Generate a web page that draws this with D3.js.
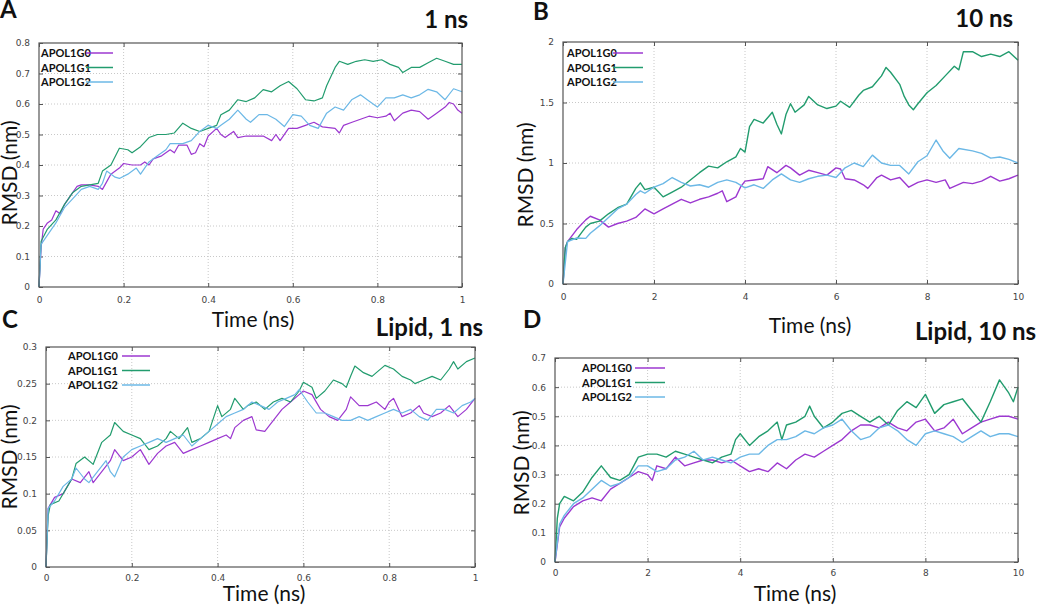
<!DOCTYPE html>
<html lang="en">
<head>
<meta charset="utf-8">
<title>APOL1 RMSD</title>
<script src="https://d3js.org/d3.v7.min.js"></script>
<style>
  body { margin: 0; background: #fff; }
  .tick-lbl { font-family: "DejaVu Sans", sans-serif; font-size: 9px; fill: #444; }
  .leg { font-family: Lato, sans-serif; font-weight: bold; font-size: 11px; fill: #111; }
  .axis-title { font-family: Lato, sans-serif; font-size: 21px; fill: #111; }
  .panel-title { font-family: Lato, sans-serif; font-weight: bold; font-size: 24px; fill: #111; }
</style>
</head>
<body>
<svg id="chart" width="1050" height="606"></svg>
<script>
// series names and colours
const seriesNames = ["APOL1G0", "APOL1G1", "APOL1G2"];
const seriesColors = ["#9c38d0", "#229c6e", "#6cb8e6"];

// ---- A : protein, 1 ns  [time (ns), RMSD (nm)]
const a_G0 = [[0,0],[0.005,0.13],[0.01,0.19],[0.02,0.21],[0.03,0.22],[0.04,0.25],[0.05,0.24],[0.06,0.27],[0.08,0.31],[0.09,0.33],[0.1,0.335],[0.12,0.335],[0.14,0.33],[0.15,0.32],[0.17,0.37],[0.19,0.39],[0.2,0.405],[0.22,0.4],[0.24,0.4],[0.25,0.41],[0.26,0.4],[0.27,0.42],[0.29,0.43],[0.31,0.45],[0.32,0.44],[0.33,0.465],[0.35,0.465],[0.36,0.435],[0.37,0.44],[0.38,0.47],[0.39,0.46],[0.4,0.495],[0.42,0.52],[0.43,0.5],[0.44,0.49],[0.46,0.51],[0.47,0.49],[0.49,0.495],[0.51,0.495],[0.53,0.495],[0.55,0.48],[0.56,0.5],[0.57,0.48],[0.59,0.52],[0.61,0.52],[0.63,0.53],[0.65,0.54],[0.67,0.525],[0.7,0.52],[0.71,0.505],[0.72,0.53],[0.74,0.54],[0.76,0.55],[0.78,0.56],[0.8,0.555],[0.82,0.56],[0.83,0.57],[0.84,0.545],[0.86,0.57],[0.88,0.58],[0.9,0.575],[0.92,0.55],[0.94,0.57],[0.96,0.59],[0.97,0.605],[0.98,0.6],[0.99,0.58],[1,0.57]];
const a_G1 = [[0,0],[0.005,0.15],[0.02,0.19],[0.04,0.22],[0.06,0.27],[0.08,0.31],[0.1,0.33],[0.12,0.335],[0.14,0.34],[0.15,0.38],[0.17,0.4],[0.19,0.455],[0.21,0.45],[0.22,0.44],[0.24,0.46],[0.26,0.49],[0.28,0.5],[0.3,0.5],[0.32,0.505],[0.34,0.537],[0.36,0.52],[0.38,0.51],[0.4,0.52],[0.42,0.53],[0.43,0.565],[0.45,0.58],[0.47,0.614],[0.49,0.608],[0.51,0.62],[0.53,0.647],[0.55,0.64],[0.57,0.66],[0.59,0.674],[0.61,0.65],[0.63,0.614],[0.65,0.61],[0.67,0.62],[0.68,0.66],[0.7,0.72],[0.71,0.74],[0.73,0.73],[0.75,0.74],[0.77,0.745],[0.79,0.74],[0.81,0.745],[0.83,0.73],[0.85,0.72],[0.86,0.703],[0.88,0.72],[0.9,0.72],[0.92,0.735],[0.94,0.75],[0.96,0.74],[0.98,0.73],[1,0.73]];
const a_G2 = [[0,0],[0.005,0.14],[0.02,0.17],[0.04,0.21],[0.06,0.26],[0.08,0.29],[0.1,0.32],[0.12,0.33],[0.14,0.32],[0.15,0.34],[0.16,0.38],[0.18,0.36],[0.19,0.356],[0.21,0.37],[0.23,0.39],[0.24,0.37],[0.26,0.41],[0.28,0.43],[0.3,0.45],[0.31,0.47],[0.34,0.47],[0.36,0.48],[0.38,0.51],[0.4,0.53],[0.42,0.52],[0.43,0.53],[0.45,0.55],[0.47,0.58],[0.49,0.55],[0.5,0.54],[0.52,0.565],[0.54,0.565],[0.56,0.55],[0.58,0.526],[0.6,0.565],[0.62,0.56],[0.64,0.53],[0.66,0.52],[0.68,0.57],[0.7,0.59],[0.72,0.58],[0.74,0.615],[0.76,0.63],[0.78,0.61],[0.8,0.59],[0.82,0.62],[0.84,0.62],[0.86,0.63],[0.88,0.62],[0.9,0.63],[0.92,0.648],[0.94,0.64],[0.96,0.614],[0.98,0.65],[1,0.64]];

// ---- B : protein, 10 ns
const b_G0 = [[0,0],[0.05,0.3],[0.1,0.35],[0.3,0.45],[0.5,0.53],[0.6,0.56],[0.8,0.53],[1,0.47],[1.2,0.5],[1.4,0.52],[1.6,0.55],[1.8,0.62],[2,0.58],[2.2,0.62],[2.4,0.66],[2.6,0.7],[2.8,0.67],[3,0.7],[3.2,0.72],[3.4,0.75],[3.5,0.77],[3.6,0.68],[3.8,0.72],[3.9,0.8],[4,0.85],[4.2,0.86],[4.4,0.87],[4.5,0.97],[4.7,0.92],[4.9,0.98],[5,0.96],[5.2,0.9],[5.4,0.94],[5.6,0.92],[5.8,0.9],[6,0.96],[6.1,0.95],[6.2,0.87],[6.4,0.86],[6.6,0.82],[6.7,0.79],[6.9,0.88],[7,0.9],[7.2,0.86],[7.4,0.88],[7.6,0.8],[7.8,0.84],[8,0.86],[8.2,0.84],[8.4,0.86],[8.5,0.79],[8.8,0.84],[9,0.83],[9.2,0.85],[9.4,0.89],[9.6,0.85],[9.8,0.87],[10,0.9]];
const b_G1 = [[0,0],[0.05,0.3],[0.1,0.35],[0.2,0.377],[0.3,0.37],[0.4,0.42],[0.5,0.47],[0.6,0.5],[0.8,0.52],[1,0.58],[1.2,0.63],[1.4,0.66],[1.6,0.79],[1.7,0.836],[1.8,0.78],[2,0.8],[2.1,0.76],[2.2,0.72],[2.4,0.76],[2.6,0.8],[2.8,0.86],[3,0.92],[3.2,0.974],[3.4,0.96],[3.6,1.01],[3.8,1.05],[3.9,1.12],[4,1.09],[4.1,1.3],[4.2,1.36],[4.4,1.33],[4.6,1.42],[4.7,1.32],[4.8,1.24],[4.9,1.4],[5,1.49],[5.1,1.42],[5.3,1.48],[5.4,1.55],[5.6,1.48],[5.8,1.45],[6,1.47],[6.1,1.51],[6.3,1.46],[6.5,1.56],[6.6,1.6],[6.8,1.63],[7,1.72],[7.1,1.79],[7.2,1.75],[7.4,1.65],[7.5,1.55],[7.6,1.48],[7.7,1.44],[7.8,1.49],[8,1.58],[8.2,1.64],[8.4,1.72],[8.6,1.8],[8.7,1.77],[8.8,1.92],[9,1.92],[9.2,1.88],[9.4,1.9],[9.6,1.88],[9.8,1.92],[10,1.85]];
const b_G2 = [[0,0],[0.1,0.35],[0.3,0.38],[0.5,0.377],[0.6,0.42],[0.8,0.48],[1,0.55],[1.2,0.62],[1.4,0.66],[1.6,0.74],[1.7,0.77],[1.8,0.75],[2,0.8],[2.2,0.83],[2.4,0.88],[2.6,0.84],[2.8,0.81],[3,0.82],[3.2,0.8],[3.4,0.84],[3.6,0.86],[3.8,0.84],[4,0.795],[4.2,0.82],[4.4,0.79],[4.6,0.86],[4.8,0.91],[5,0.86],[5.2,0.84],[5.4,0.87],[5.6,0.89],[5.8,0.9],[6,0.88],[6.2,0.96],[6.4,1],[6.6,0.97],[6.8,1.065],[7,1],[7.2,0.98],[7.4,0.98],[7.6,0.91],[7.8,1.01],[8,1.06],[8.2,1.19],[8.35,1.1],[8.5,1.04],[8.7,1.12],[9,1.1],[9.2,1.08],[9.4,1.04],[9.6,1.05],[9.8,1.03],[10,1]];

// ---- C : lipid, 1 ns
const c_G0 = [[0,0],[0.005,0.08],[0.02,0.095],[0.04,0.1],[0.06,0.12],[0.08,0.115],[0.1,0.13],[0.11,0.115],[0.13,0.13],[0.15,0.145],[0.16,0.16],[0.18,0.145],[0.2,0.15],[0.22,0.16],[0.24,0.14],[0.26,0.155],[0.28,0.165],[0.3,0.17],[0.32,0.155],[0.34,0.16],[0.36,0.165],[0.38,0.17],[0.4,0.175],[0.42,0.18],[0.43,0.175],[0.44,0.19],[0.46,0.2],[0.48,0.205],[0.49,0.187],[0.51,0.185],[0.53,0.2],[0.55,0.215],[0.57,0.225],[0.59,0.235],[0.6,0.24],[0.62,0.235],[0.64,0.215],[0.66,0.205],[0.68,0.2],[0.7,0.215],[0.71,0.232],[0.73,0.22],[0.75,0.22],[0.77,0.225],[0.79,0.215],[0.8,0.225],[0.81,0.23],[0.83,0.205],[0.85,0.21],[0.87,0.22],[0.88,0.21],[0.9,0.205],[0.92,0.21],[0.94,0.22],[0.96,0.205],[0.98,0.215],[1,0.23]];
const c_G1 = [[0,0],[0.005,0.07],[0.01,0.085],[0.03,0.09],[0.05,0.11],[0.06,0.12],[0.07,0.141],[0.09,0.15],[0.11,0.14],[0.13,0.17],[0.15,0.18],[0.16,0.197],[0.18,0.185],[0.2,0.18],[0.22,0.175],[0.24,0.16],[0.26,0.165],[0.28,0.175],[0.29,0.185],[0.31,0.175],[0.33,0.19],[0.34,0.17],[0.36,0.175],[0.38,0.185],[0.4,0.22],[0.41,0.205],[0.43,0.215],[0.44,0.23],[0.46,0.215],[0.47,0.22],[0.49,0.225],[0.51,0.215],[0.53,0.225],[0.55,0.23],[0.57,0.225],[0.59,0.24],[0.6,0.252],[0.62,0.245],[0.63,0.23],[0.65,0.24],[0.67,0.255],[0.69,0.25],[0.7,0.245],[0.71,0.26],[0.72,0.274],[0.74,0.265],[0.76,0.26],[0.77,0.265],[0.79,0.275],[0.81,0.27],[0.83,0.26],[0.85,0.255],[0.86,0.25],[0.88,0.255],[0.9,0.26],[0.92,0.255],[0.94,0.27],[0.95,0.28],[0.96,0.27],[0.98,0.28],[1,0.285]];
const c_G2 = [[0,0],[0.005,0.08],[0.02,0.09],[0.04,0.11],[0.06,0.12],[0.07,0.135],[0.09,0.12],[0.1,0.115],[0.12,0.13],[0.14,0.145],[0.15,0.13],[0.16,0.123],[0.18,0.15],[0.2,0.16],[0.22,0.165],[0.24,0.17],[0.26,0.175],[0.28,0.17],[0.3,0.175],[0.32,0.18],[0.34,0.165],[0.36,0.175],[0.38,0.185],[0.4,0.195],[0.42,0.205],[0.44,0.21],[0.46,0.215],[0.48,0.225],[0.5,0.22],[0.52,0.215],[0.54,0.225],[0.56,0.23],[0.58,0.235],[0.59,0.242],[0.61,0.225],[0.63,0.21],[0.65,0.21],[0.67,0.205],[0.69,0.2],[0.71,0.2],[0.73,0.205],[0.75,0.2],[0.77,0.205],[0.79,0.21],[0.81,0.215],[0.83,0.21],[0.85,0.215],[0.87,0.205],[0.89,0.2],[0.91,0.215],[0.93,0.215],[0.95,0.21],[0.97,0.22],[0.99,0.225],[1,0.23]];

// ---- D : lipid, 10 ns
const d_G0 = [[0,0],[0.1,0.12],[0.2,0.15],[0.4,0.19],[0.6,0.21],[0.8,0.22],[1,0.21],[1.2,0.25],[1.4,0.27],[1.6,0.29],[1.8,0.31],[2,0.3],[2.1,0.28],[2.2,0.33],[2.4,0.32],[2.6,0.36],[2.8,0.33],[3,0.34],[3.2,0.35],[3.4,0.35],[3.6,0.34],[3.8,0.35],[4,0.33],[4.2,0.31],[4.4,0.32],[4.6,0.31],[4.8,0.34],[5,0.32],[5.2,0.35],[5.4,0.37],[5.6,0.36],[5.8,0.38],[6,0.4],[6.2,0.42],[6.4,0.45],[6.6,0.47],[6.8,0.47],[7,0.46],[7.2,0.48],[7.4,0.46],[7.6,0.45],[7.8,0.48],[8,0.49],[8.2,0.45],[8.4,0.46],[8.6,0.49],[8.8,0.44],[9,0.46],[9.2,0.48],[9.4,0.49],[9.6,0.5],[9.8,0.5],[10,0.49]];
const d_G1 = [[0,0],[0.05,0.15],[0.1,0.2],[0.2,0.225],[0.4,0.21],[0.6,0.24],[0.8,0.29],[1,0.33],[1.2,0.29],[1.4,0.28],[1.6,0.3],[1.8,0.36],[2,0.37],[2.2,0.37],[2.4,0.36],[2.6,0.38],[2.8,0.37],[3,0.36],[3.2,0.35],[3.4,0.34],[3.6,0.36],[3.8,0.37],[3.9,0.42],[4,0.44],[4.2,0.4],[4.4,0.43],[4.6,0.45],[4.8,0.48],[4.9,0.42],[5,0.47],[5.2,0.48],[5.4,0.5],[5.5,0.535],[5.6,0.5],[5.8,0.46],[6,0.48],[6.2,0.51],[6.4,0.52],[6.6,0.5],[6.8,0.48],[7,0.5],[7.2,0.47],[7.4,0.52],[7.6,0.55],[7.8,0.53],[8,0.575],[8.2,0.51],[8.4,0.54],[8.6,0.55],[8.8,0.56],[9,0.52],[9.2,0.48],[9.4,0.55],[9.6,0.625],[9.8,0.58],[9.9,0.55],[10,0.6]];
const d_G2 = [[0,0],[0.1,0.13],[0.2,0.16],[0.4,0.2],[0.6,0.22],[0.8,0.25],[1,0.28],[1.2,0.26],[1.4,0.27],[1.6,0.29],[1.8,0.33],[2,0.33],[2.2,0.31],[2.4,0.32],[2.6,0.35],[2.8,0.36],[3,0.38],[3.2,0.35],[3.4,0.36],[3.6,0.35],[3.8,0.34],[4,0.36],[4.2,0.37],[4.4,0.37],[4.6,0.4],[4.8,0.42],[5,0.42],[5.2,0.43],[5.4,0.45],[5.6,0.44],[5.8,0.46],[6,0.47],[6.2,0.49],[6.4,0.45],[6.6,0.42],[6.8,0.43],[7,0.46],[7.2,0.47],[7.4,0.45],[7.6,0.42],[7.8,0.4],[8,0.44],[8.2,0.45],[8.4,0.44],[8.6,0.43],[8.8,0.41],[9,0.43],[9.2,0.45],[9.4,0.43],[9.6,0.44],[9.8,0.44],[10,0.43]];

// tick values
const ticks1ns = [0, 0.2, 0.4, 0.6, 0.8, 1];
const ticks10ns = [0, 2, 4, 6, 8, 10];
const yTicksA = [0, 0.1, 0.2, 0.3, 0.4, 0.5, 0.6, 0.7, 0.8];
const yTicksB = [0, 0.5, 1, 1.5, 2];
const yTicksC = [0, 0.05, 0.1, 0.15, 0.2, 0.25, 0.3];
const yTicksD = [0, 0.1, 0.2, 0.3, 0.4, 0.5, 0.6, 0.7];

const svg = d3.select("#chart");

const panels = [
  { letter: "A", title: "1 ns", box: [39, 43, 462, 287], xMax: 1, yMax: 0.8, xt: ticks1ns, yt: yTicksA,
    data: [a_G0, a_G1, a_G2], lw: 1.2, xPad: 10, letterPos: [0, 18], titlePos: [468, 28], timePos: [253, 327], rmsdPos: [17, 173],
    legPos: [41, 53], legLine: [86, 113] },
  { letter: "B", title: "10 ns", box: [563, 42, 1018, 284], xMax: 10, yMax: 2, xt: ticks10ns, yt: yTicksB,
    data: [b_G0, b_G1, b_G2], lw: 1.4, xPad: 10, letterPos: [533, 20], titlePos: [1013, 27], timePos: [810, 333], rmsdPos: [533, 175],
    legPos: [567, 53], legLine: [613, 643] },
  { letter: "C", title: "Lipid, 1 ns", box: [46, 347, 475, 567], xMax: 1, yMax: 0.3, xt: ticks1ns, yt: yTicksC,
    data: [c_G0, c_G1, c_G2], lw: 1.2, xPad: 8, letterPos: [2, 328], titlePos: [483, 336], timePos: [264, 601], rmsdPos: [17, 457],
    legPos: [68, 356], legLine: [122, 150] },
  { letter: "D", title: "Lipid, 10 ns", box: [555, 358, 1018, 562], xMax: 10, yMax: 0.7, xt: ticks10ns, yt: yTicksD,
    data: [d_G0, d_G1, d_G2], lw: 1.4, xPad: 8, letterPos: [523, 328], titlePos: [1036, 340], timePos: [795, 601], rmsdPos: [529, 463],
    legPos: [582, 368], legLine: [635, 665] }
];

panels.forEach(drawPanel);

function drawPanel(p) {
  let [x0, y0, x1, y1] = p.box;
  let x = d3.scaleLinear().domain([0, p.xMax]).range([x0, x1]);
  let y = d3.scaleLinear().domain([0, p.yMax]).range([y1, y0]);
  let g = svg.append("g");

  // dotted grid
  g.selectAll(".gx").data(p.xt.slice(1, -1)).enter().append("line")
    .attr("x1", d => x(d)).attr("x2", d => x(d)).attr("y1", y0).attr("y2", y1)
    .attr("stroke", "#c8c8c8").attr("stroke-dasharray", "1,2");
  g.selectAll(".gy").data(p.yt.slice(1, -1)).enter().append("line")
    .attr("x1", x0).attr("x2", x1).attr("y1", d => y(d)).attr("y2", d => y(d))
    .attr("stroke", "#c8c8c8").attr("stroke-dasharray", "1,2");

  // axes with inward ticks, mirrored like gnuplot
  let fmt = d => String(d);
  g.append("g").attr("transform", "translate(0," + y1 + ")")
    .call(d3.axisBottom(x).tickValues(p.xt).tickSize(-4).tickPadding(p.xPad).tickFormat(fmt));
  g.append("g").attr("transform", "translate(0," + y0 + ")")
    .call(d3.axisTop(x).tickValues(p.xt).tickSize(-4).tickFormat(""));
  g.append("g").attr("transform", "translate(" + x0 + ",0)")
    .call(d3.axisLeft(y).tickValues(p.yt).tickSize(-4).tickPadding(9).tickFormat(fmt));
  g.append("g").attr("transform", "translate(" + x1 + ",0)")
    .call(d3.axisRight(y).tickValues(p.yt).tickSize(-4).tickFormat(""));
  g.selectAll(".domain").attr("stroke", "none");
  g.selectAll(".tick line").attr("stroke", "#555");
  g.selectAll(".tick text").attr("class", "tick-lbl").attr("fill", null);

  // lines
  let line = d3.line().x(d => x(d[0])).y(d => y(d[1]));
  p.data.forEach((s, i) => {
    g.append("path").datum(s).attr("d", line)
      .attr("fill", "none").attr("stroke", seriesColors[i])
      .attr("stroke-width", p.lw).attr("stroke-linejoin", "round");
  });

  // frame
  g.append("rect").attr("x", x0).attr("y", y0).attr("width", x1 - x0).attr("height", y1 - y0)
    .attr("fill", "none").attr("stroke", "#555").attr("stroke-width", 1.2);

  // legend
  seriesNames.forEach((n, i) => {
    let ly = p.legPos[1] + i * 14.5;
    g.append("text").attr("class", "leg").attr("x", p.legPos[0]).attr("y", ly + 4).text(n);
    g.append("line").attr("x1", p.legLine[0]).attr("x2", p.legLine[1]).attr("y1", ly).attr("y2", ly)
      .attr("stroke", seriesColors[i]).attr("stroke-width", 1.5);
  });

  // labels
  svg.append("text").attr("class", "panel-title").attr("x", p.letterPos[0]).attr("y", p.letterPos[1]).text(p.letter);
  svg.append("text").attr("class", "panel-title").attr("x", p.titlePos[0]).attr("y", p.titlePos[1])
    .attr("text-anchor", "end").text(p.title);
  svg.append("text").attr("class", "axis-title").attr("x", p.timePos[0]).attr("y", p.timePos[1])
    .attr("text-anchor", "middle").text("Time (ns)");
  svg.append("text").attr("class", "axis-title")
    .attr("transform", "translate(" + p.rmsdPos[0] + "," + p.rmsdPos[1] + ") rotate(-90)")
    .attr("text-anchor", "middle").text("RMSD (nm)");
}
</script>
</body>
</html>
